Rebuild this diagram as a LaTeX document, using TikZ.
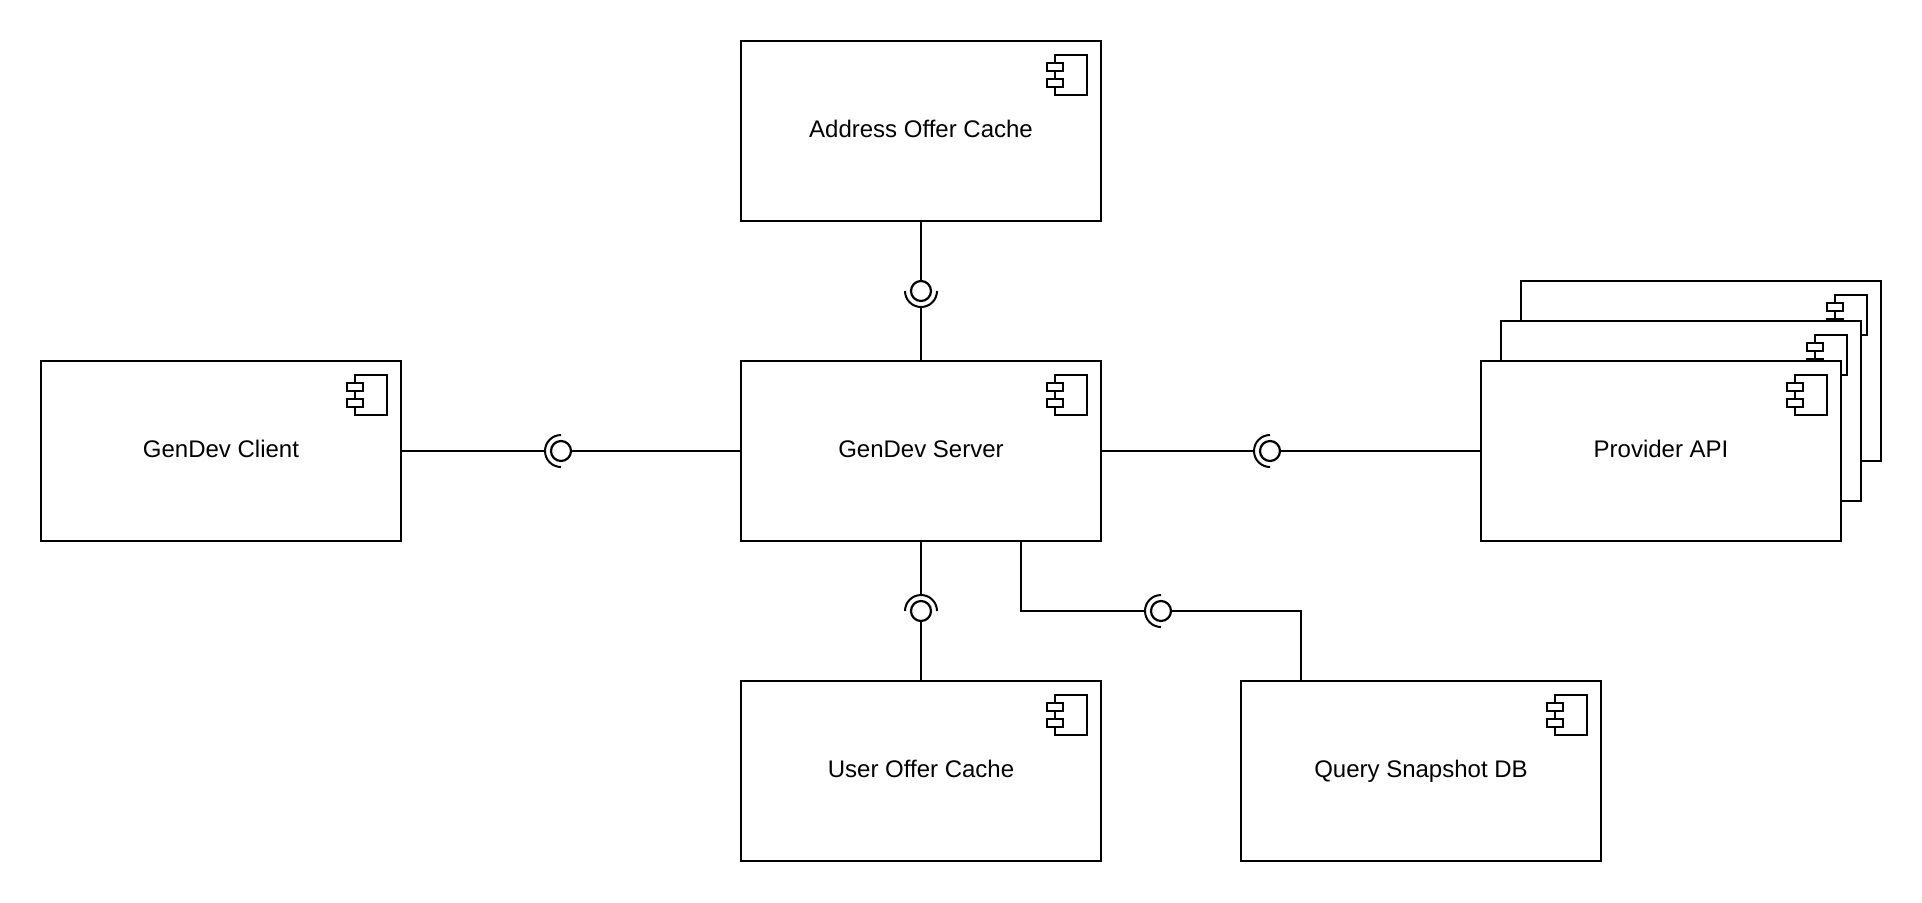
\documentclass[tikz,border=0pt]{standalone}
\usepackage{fontspec}
\setmainfont{Liberation Sans}
\usepackage{xcolor}
\usetikzlibrary{positioning}

\tikzset{
  compbox/.style={draw=black, fill=white, line width=1.1pt, minimum width=180pt, minimum height=90pt, inner sep=0pt, outer sep=0pt, font=\fontsize{12pt}{14pt}\selectfont, text height=8.6pt, text depth=2.3pt, align=center},
  ball/.style={draw=black, fill=white, circle, line width=1.1pt, minimum size=10pt, inner sep=0pt, outer sep=0pt},
  wire/.style={draw=black, line width=1.1pt},
  socket/.style={draw=black, line width=1pt},
  icon/.style={draw=black, fill=white, line width=1.1pt},
}

% small component symbol in the corner of a box
\newcommand{\compicon}[1]{
  \draw[icon] ([shift={(-23pt,-7pt)}]#1.north east) rectangle ([shift={(-7pt,-27pt)}]#1.north east);
  \draw[icon] ([shift={(-27pt,-11pt)}]#1.north east) rectangle ([shift={(-19pt,-15pt)}]#1.north east);
  \draw[icon] ([shift={(-27pt,-19pt)}]#1.north east) rectangle ([shift={(-19pt,-23pt)}]#1.north east);
}
% ball with its half ring, #3 is the angle where the ring starts
\newcommand{\lollipop}[3]{
  \node[ball] (#1) at #2 {};
  \draw[socket] (#1.center) ++(#3:8pt) arc (#3:#3+180:8pt);
  \coordinate (#1-s) at ([shift={(#3+90:8pt)}]#1.center);
}

\begin{document}
\begin{tikzpicture}[x=0.5pt,y=-0.5pt]
\useasboundingbox (0,0) rectangle (1922,902);

% Boxes
\node[compbox] (address) at (921,131) {Address Offer Cache};
\compicon{address}
\node[compbox] (server) at (921,451) {GenDev Server};
\compicon{server}
\node[compbox] (client) at (221,451) {GenDev Client};
\compicon{client}
\node[compbox] (user) at (921,771) {User Offer Cache};
\compicon{user}
\node[compbox] (snapshot) at (1421,771) {Query Snapshot DB};
\compicon{snapshot}

% Provider stack, back to front
\node[compbox] (providerC) at (1701,371) {};
\compicon{providerC}
\node[compbox] (providerB) at (1681,411) {};
\compicon{providerB}
\node[compbox] (provider) at (1661,451) {Provider API};
\compicon{provider}

% Interfaces
\lollipop{ifaddress}{(921,291)}{180}
\lollipop{ifclient}{(561,451)}{90}
\lollipop{ifprovider}{(1270,451)}{90}
\lollipop{ifuser}{(921,611)}{0}
\lollipop{ifsnapshot}{(1161,611)}{90}

% Connectors
\draw[wire] (address.south) -- (ifaddress.north);
\draw[wire] (ifaddress-s) -- (server.north);
\draw[wire] (client.east) -- (ifclient-s);
\draw[wire] (ifclient.east) -- (server.west);
\draw[wire] (server.east) -- (ifprovider-s);
\draw[wire] (ifprovider.east) -- (provider.west);
\draw[wire] (server.south) -- (ifuser-s);
\draw[wire] (ifuser.south) -- (user.north);
\draw[wire] (server.south east) ++(-80,0) |- (ifsnapshot-s);
\draw[wire] (ifsnapshot.east) -| ([xshift=-60pt]snapshot.north);
\end{tikzpicture}
\end{document}
